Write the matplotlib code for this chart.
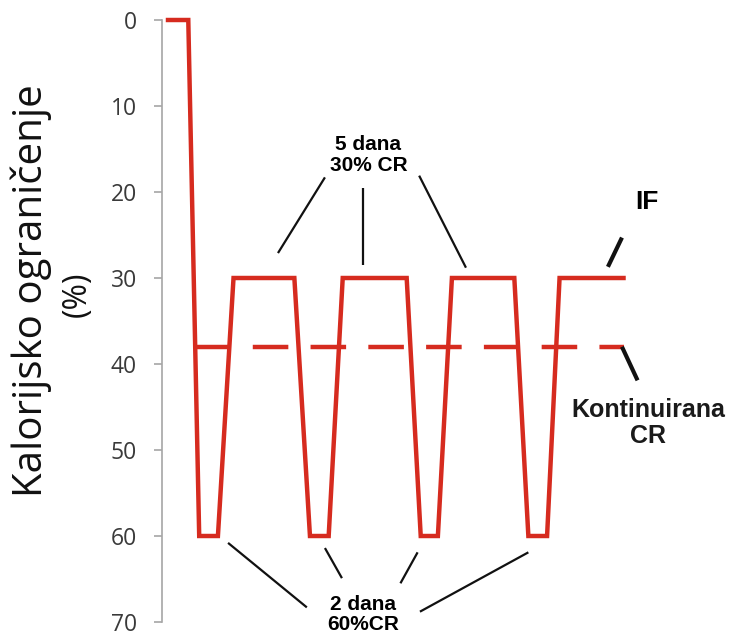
import numpy as np
import matplotlib.pyplot as plt

# IF line: days vs. calorie restriction (%)
if_days = [0, 1.3, 2.0, 3.2, 4.2, 8.1, 9.1, 10.3, 11.2, 15.3, 16.2, 17.3, 18.2, 22.2, 23.1, 24.3, 25.1, 29.2]
if_cr = [0, 0, 60, 60, 30, 30, 60, 60, 30, 30, 60, 60, 30, 30, 60, 60, 30, 30]

# continuous CR line
cont_days = [1.7, 29.2]
cont_cr = [38, 38]

yticks = [0, 10, 20, 30, 40, 50, 60, 70]

red = '#d62b1f'
W, H = 737, 636

fig = plt.figure(figsize=(W / 100, H / 100), dpi=100)
ax = fig.add_axes([162 / W, 1 - 622 / H, (641 - 162) / W, (622 - 20) / H])

ax.plot(if_days, if_cr, color=red, lw=3.2, solid_joinstyle='miter', clip_on=False)
dash, = ax.plot(cont_days, cont_cr, color=red, lw=3.2, clip_on=False)
dash.set_dashes([8, 5])

ax.set_xlim(-6 / 15.6, (641 - 168) / 15.6)
ax.set_ylim(70, 0)
ax.set_yticks(yticks)
ax.set_xticks([])

for s in ['top', 'right', 'bottom']:
    ax.spines[s].set_visible(False)
ax.spines['left'].set_color('#a6a6a6')
ax.spines['left'].set_linewidth(1.2)
ax.tick_params(axis='y', direction='out', length=6, width=1.2, color='#a6a6a6',
               pad=12, labelsize=16.5, labelcolor='#3a3a3a')
for lab in ax.get_yticklabels():
    lab.set_fontfamily('Open Sans')

# y label (two lines, different sizes)
fig.text(31 / W, 1 - 291 / H, 'Kalorijsko ograničenje', rotation=90, ha='center', va='center',
         fontsize=29, family='Open Sans', color='#111111')
fig.text(77 / W, 1 - 294 / H, '(%)', rotation=90, ha='center', va='center',
         fontsize=23, family='Open Sans', color='#111111')

# annotation helper: black leader lines
def leader(x0, y0, x1, y1, lw=1.6):
    ax.plot([x0, x1], [y0, y1], color='#111111', lw=lw, clip_on=False, solid_capstyle='butt')

# 5 days at 30% CR
ax.text(12.85, 15.7, '5 dana\n30% CR', ha='center', va='center', fontsize=15,
        family='Liberation Sans', fontweight='bold', linespacing=1.1)
leader(7.05, 27.1, 10.06, 18.3)
leader(12.5, 19.5, 12.5, 28.5)
leader(16.1, 18.1, 19.1, 28.8)

# 2 days at 60% CR
ax.text(12.5, 69.1, '2 dana\n60%CR', ha='center', va='center', fontsize=15,
        family='Liberation Sans', fontweight='bold', linespacing=1.1)
leader(3.85, 60.8, 8.9, 68.3)
leader(10.06, 61.4, 11.15, 64.9)
leader(16.0, 61.9, 14.9, 65.5)
leader(23.1, 61.9, 16.15, 68.8)

# IF label
ax.text(30.7, 21.2, 'IF', ha='center', va='center', fontsize=19,
        family='Liberation Sans', fontweight='bold')
leader(28.2, 28.7, 29.1, 25.3, lw=3)

# continuous CR label
ax.text(30.8, 46.9, 'Kontinuirana\nCR', ha='center', va='center', fontsize=18,
        family='Liberation Sans', fontweight='bold', color='#1a1a1a', linespacing=1.1)
leader(29.1, 38.0, 30.1, 41.9, lw=3)

fig.savefig('out.png', dpi=100)
